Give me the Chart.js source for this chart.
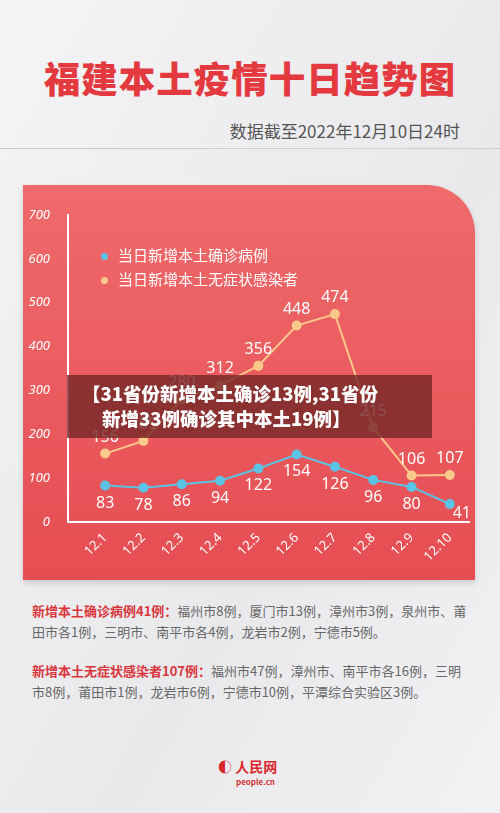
<!DOCTYPE html>
<html><head><meta charset="utf-8">
<script src="https://cdn.jsdelivr.net/npm/chart.js@4"></script>
<style>
body{margin:0;width:500px;height:813px;overflow:hidden;background:linear-gradient(120deg,#f4f4f6,#e9e9ec 60%,#f2f2f4);font-family:"Noto Sans CJK SC",sans-serif;position:relative}
#title{position:absolute;top:51px;left:0;width:500px;text-align:center;color:#e4393f;font-size:36.5px;font-weight:900;letter-spacing:1px}
#sub{position:absolute;top:118px;right:40px;color:#555;font-size:17px}
#line{position:absolute;top:148px;left:0;width:500px;height:1px;background:#ccc}
#card{position:absolute;left:23px;top:185px;width:452px;height:395px;background:linear-gradient(180deg,#ef6a6b,#e54d53);border-radius:0 48px 0 0;box-shadow:0 3px 6px rgba(0,0,0,.15)}
#cv{position:absolute;left:23px;top:185px}
.leg{position:absolute;left:101px;color:#fff;font-size:15px}
.leg span{display:inline-block;width:7px;height:7px;border-radius:50%;margin-right:10px;vertical-align:middle}
#ov{position:absolute;left:67px;top:375px;width:365px;height:63px;background:rgba(120,40,40,.82);color:#fff;font-weight:900;font-size:18.5px;line-height:25px;padding-top:6px;box-sizing:border-box}
.txt{position:absolute;left:32px;width:438px;font-size:13px;color:#666;line-height:21px}
.txt b{color:#d9363b}
#logo{position:absolute;top:756px;left:218px;color:#d9262b;font-size:14px;font-weight:bold}
</style></head><body>
<div id="title">福建本土疫情十日趋势图</div>
<div id="sub">数据截至2022年12月10日24时</div>
<div id="line"></div>
<div id="card"></div>
<canvas id="cv" width="452" height="395"></canvas>
<div class="leg" style="top:244px"><span style="background:#5bc3e6"></span>当日新增本土确诊病例</div>
<div class="leg" style="top:268px"><span style="background:#fbc98a"></span>当日新增本土无症状感染者</div>
<div id="ov"><div style="padding-left:15px">【31省份新增本土确诊13例,31省份</div><div style="padding-left:35px">新增33例确诊其中本土19例】</div></div>
<div class="txt" style="top:600px"><b>新增本土确诊病例41例：</b>福州市8例，厦门市13例，漳州市3例，泉州市、莆田市各1例，三明市、南平市各4例，龙岩市2例，宁德市5例。</div>
<div class="txt" style="top:660px"><b>新增本土无症状感染者107例：</b>福州市47例，漳州市、南平市各16例，三明市8例，莆田市1例，龙岩市6例，宁德市10例，平潭综合实验区3例。</div>
<div id="logo">◐ 人民网<div style="font-size:8px;color:#c33;margin-left:18px">people.cn</div></div>
<script>
const categories=["12.1","12.2","12.3","12.4","12.5","12.6","12.7","12.8","12.9","12.10"];
const confirmed=[83,78,86,94,122,154,126,96,80,41];
const asymptomatic=[156,185,280,312,356,448,474,215,106,107];
const yTicks=[0,100,200,300,400,500,600,700];
const pts=a=>a.map((v,i)=>({x:i,y:v}));
const labelPlugin={id:'lbl',afterDatasetsDraw(c){const ctx=c.ctx;ctx.save();ctx.fillStyle='#fff';ctx.font='16px "Noto Sans"';ctx.textAlign='center';
c.data.datasets.forEach((ds,i)=>{c.getDatasetMeta(i).data.forEach((p,j)=>{let x=p.x,y=i===0?p.y+22:p.y-12;if(i===0&&j===categories.length-1){x+=12;y=p.y+14;}ctx.fillText(ds.data[j].y,x,y);});});ctx.restore();}};
new Chart(document.getElementById('cv'),{type:'line',data:{datasets:[
{data:pts(confirmed),borderColor:'#5bc3e6',backgroundColor:'#5bc3e6',borderWidth:2,pointRadius:4,tension:0},
{data:pts(asymptomatic),borderColor:'#fbc98a',backgroundColor:'#fbc98a',borderWidth:2,pointRadius:4,tension:0}]},
options:{responsive:false,animation:false,layout:{padding:{top:30,right:6}},plugins:{legend:{display:false},tooltip:{enabled:false}},
scales:{x:{type:'linear',min:-0.97,max:9.5,afterBuildTicks(a){a.ticks=categories.map((c,i)=>({value:i}))},grid:{display:false,drawTicks:false},border:{color:'#fff',width:2},afterFit(a){a.height=58},ticks:{callback:v=>categories[v],color:'#fff',maxRotation:45,minRotation:45,font:{size:13,family:'"Noto Sans"'},padding:8}},
y:{min:0,max:700,afterBuildTicks(a){a.ticks=yTicks.map(v=>({value:v}))},afterFit(a){a.width=45},grid:{display:false},border:{color:'#fff',width:2},ticks:{color:'#fff',font:{size:13,style:'italic',family:'"Noto Sans"'},padding:10}}}},
plugins:[labelPlugin]});
</script></body></html>
